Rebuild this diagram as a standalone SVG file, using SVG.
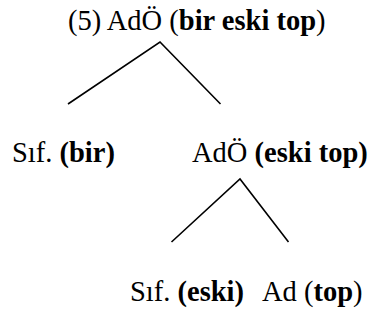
<svg xmlns="http://www.w3.org/2000/svg" width="370" height="324" viewBox="0 0 370 324">
<style>
text{font-family:"Liberation Serif","Times New Roman",serif;font-size:28.5px;fill:#000}
.b{font-weight:bold}
.e{stroke:#000;stroke-width:1.6;fill:none}
</style>
<rect width="370" height="324" fill="#fff"/>
<g id="connectors">
<polyline class="e" points="68,104 160,42 220.5,104"/>
<polyline class="e" points="171.5,242 240,179 288.5,242"/>
</g>
<g id="n-root"><text x="68" y="30" xml:space="preserve">(5) AdÖ (<tspan class="b">bir eski top</tspan>)</text></g>
<g id="n-sif-bir"><text x="12" y="162">Sıf. <tspan class="b">(bir)</tspan></text></g>
<g id="n-ado"><text x="192" y="162">AdÖ <tspan class="b">(eski top)</tspan></text></g>
<g id="n-sif-eski"><text x="130" y="301">Sıf. <tspan class="b">(eski)</tspan></text></g>
<g id="n-ad"><text x="262" y="301">Ad (<tspan class="b">top</tspan>)</text></g>
</svg>
